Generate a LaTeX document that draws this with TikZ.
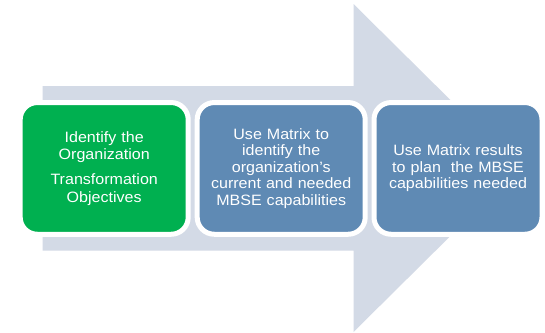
\documentclass[tikz,border=0pt]{standalone}
\usepackage{fontspec}
\setmainfont{Liberation Sans}[FakeStretch=1.07]
\definecolor{arrowgray}{RGB}{211,218,230}
\definecolor{boxgreen}{RGB}{0,176,80}
\definecolor{boxblue}{RGB}{95,138,180}
\tikzset{
  stepbox/.style={draw=white, line width=5pt, rounded corners=17pt,
    minimum width=168pt, minimum height=131.7pt, inner sep=0pt,
    text=white, align=center, text width=158pt,
    font=\fontsize{15pt}{16.6pt}\selectfont},
  bigarrow/.style={fill=arrowgray, draw=none}
}
\begin{document}
\begin{tikzpicture}[x=1pt,y=-1pt]
\useasboundingbox (0,0) rectangle (545,332);
\fill[white] (0,0) rectangle (545,332);
\fill[bigarrow] (42.7,86) -- (353.5,86) -- (353.5,4) -- (519,168) -- (353.5,332) -- (353.5,250.7) -- (42.7,250.7) -- cycle;
\node[stepbox, fill=boxgreen, font=\fontsize{15pt}{17.5pt}\selectfont] (s1) at (104.2,168.4) {Identify the\\Organization\\[7.5pt]Transformation\\Objectives};
\node[stepbox, fill=boxblue] (s2) at (281.2,168.4) {Use Matrix to\\identify the\\organization’s\\current and needed\\MBSE capabilities};
\node[stepbox, fill=boxblue] (s3) at (458,168.4) {Use Matrix results\\to plan~ the MBSE\\capabilities needed};
\end{tikzpicture}
\end{document}
